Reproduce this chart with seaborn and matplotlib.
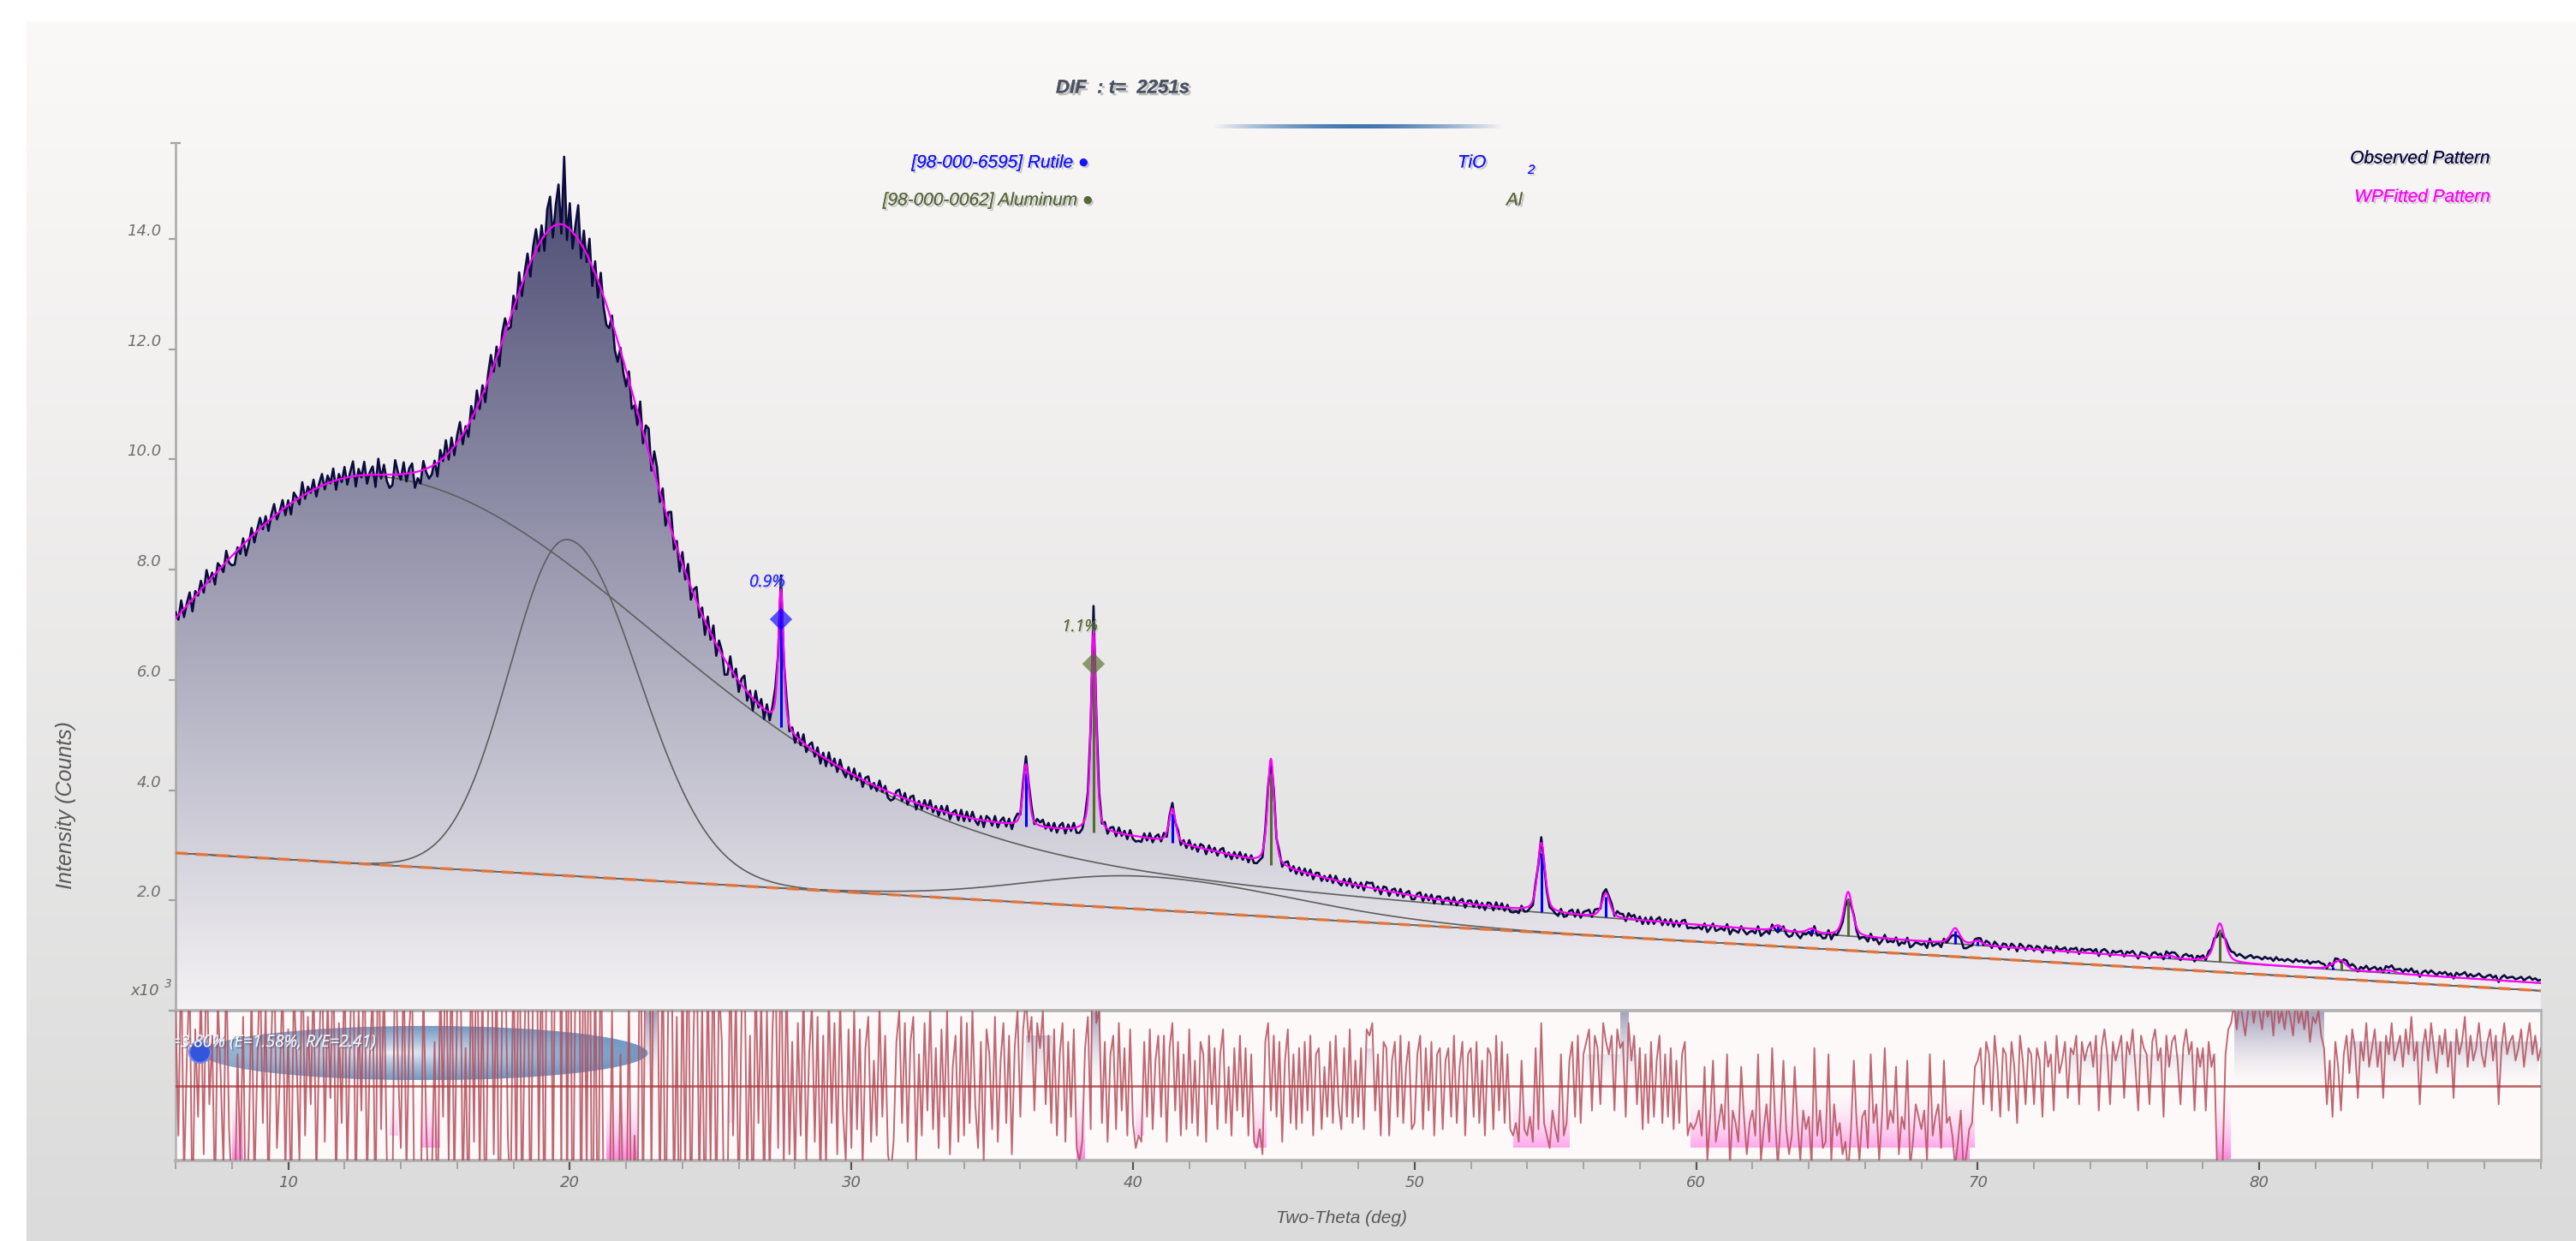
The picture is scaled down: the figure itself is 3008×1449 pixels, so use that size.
import numpy as np
import pandas as pd
import matplotlib
matplotlib.use("Agg")
import matplotlib.pyplot as plt
import seaborn as sns
from matplotlib import patheffects as pe
from matplotlib.colors import LinearSegmentedColormap, to_rgba
from matplotlib.patches import Polygon, PathPatch, Ellipse, Rectangle
from matplotlib.path import Path
from matplotlib.ticker import MultipleLocator

# ---------------- scan ----------------
scan_start, scan_end, scan_step = 6.0, 90.0, 0.1
y_top = 15.74                       # x10^3 counts

# linear background (x10^3 counts) at the two ends of the scan
background_ends = [2.86, 0.36]

# amorphous humps
hump_center = [13.0, 19.9, 40.5]
hump_height = [7.05, 6.1, 0.6]
hump_hw_left = [8.2, 2.4, 5.0]
hump_hw_right = [11.5, 3.0, 6.0]
hump_tail_frac = [0.15, 0.0, 0.0]
hump_tail_hw = [30.0, 1.0, 1.0]

# crystalline reflections (R = rutile, A = aluminium)
peak_pos = [27.5, 36.2, 38.6, 41.4, 44.9, 54.5, 56.8, 62.9, 64.1, 65.4,
            69.2, 70.0, 76.8, 78.6, 82.6, 82.9, 84.6]
peak_phase = ['R', 'R', 'A', 'R', 'A', 'R', 'R', 'R', 'R', 'A',
              'R', 'R', 'R', 'A', 'R', 'A', 'R']
peak_height = [2.50, 1.13, 3.65, 0.62, 1.93, 1.25, 0.44, 0.10, 0.08, 0.80,
               0.28, 0.08, 0.05, 0.70, 0.05, 0.16, 0.05]
peak_fwhm = [0.22, 0.25, 0.22, 0.28, 0.28, 0.32, 0.34, 0.36, 0.36, 0.36,
             0.38, 0.38, 0.42, 0.42, 0.45, 0.45, 0.46]

phase_color = {'R': '#0000ff', 'A': '#556b2f'}
phase_marker_pos = [27.5, 38.6]
phase_marker_y = [7.10, 6.29]
phase_marker_phase = ['R', 'A']
phase_fraction_text = ['0.9%', '1.1%']

# observed minus fitted, in hundredths of 10^3 counts, one row per degree
residual_hundredths = [
    12, -8, 21, -15, 4, 18, -22, 9, -5, 16,
    -11, 24, -3, 8, -19, 14, 2, -13, 20, -7,
    -17, -21, 5, -12, 11, -25, -9, 15, -16, 3,
    19, -6, 13, -18, 7, 22, -10, 1, 17, -14,
    9, -20, 16, 4, -12, 25, -8, 11, -3, 18,
    -15, 6, 21, -9, 14, -2, 23, -17, 10, -6,
    20, -13, 8, 27, -19, 12, -4, 24, -16, 5,
    15, -22, 29, -7, 18, -11, -24, -19, 26, 3,
    -10, 21, -14, 9, 17, -28, -12, -23, 16, -6,
    -20, -15, 7, -25, 19, -5, 28, -12, 22, -16,
    13, 30, -18, 6, -22, 24, -9, 31, -14, 17,
    -26, 12, 33, -11, 20, -30, 15, 27, -8, -19,
    23, -16, 36, -21, 9, 29, -25, 18, 38, -12,
    26, -28, 41, 58, -20, 35, 72, -17, 124, -24,
    47, -30, 18, 62, -26, 33, -14, 39, -35, 22,
    -31, 28, -19, -37, -27, 12, -34, -38, 5, -22,
    -29, 16, -33, -8, -25, 36, -21, 30, 43, -15,
    38, 27, -18, 24, -26, 15, 32, -20, 11, -29,
    21, -14, 28, -23, 9, 26, -17, 13, -25, 19,
    -12, 24, -21, 16, 7, -28, -19, 22, -8, 15,
    -20, 11, 23, -16, 8, -22, 19, -6, 14, -18,
    12, -15, 9, 21, -10, 25, -13, 18, -11, 7,
    -14, 10, -8, 16, -12, 5, 13, -9, 11, -15,
    8, -13, 15, -6, 10, -11, 14, -4, -12, 9,
    -10, 12, -7, 9, -13, 6, 11, -9, 4, -8,
    13, -5, 8, -11, -14, -9, 7, 12, -6, 10,
    -9, 7, 11, -12, 5, -8, 10, -4, 13, -7,
    6, -10, 9, -5, 12, -11, 3, 8, -9, 11,
    -8, 10, -6, 12, -3, -10, 7, -12, 9, 5,
    -7, 11, -9, 4, 10, -6, 8, -11, 6, 12,
    -5, 9, 14, 7, 11, -4, 10, 6, 12, -3,
    8, -6, 9, -8, 5, 10, -9, 7, -5, 9,
    -10, -12, -9, 6, 11, -7, 45, 10, 12, -6,
    7, -9, 5, 8, -7, 10, -4, 6, -8, 9,
    -6, -10, -8, -9, 7, -5, 9, -7, 4, 8,
    -5, 8, -9, 6, 10, -4, 7, -8, 5, -7,
    9, -6, 4, -8, 7, 5, -9, 8, -3, 6,
    -7, 5, 9, -6, 3, -8, 6, -4, 8, -5,
    6, -8, 5, -9, -10, -7, -11, 7, 10, -4,
    8, -5, 7, -9, 4, 9, -6, 5, -7, 6,
    -6, 7, -4, 8, -8, 5, 6, -7, 3, -5,
    7, -6, 8, -3, -7, 6, -5, 9, -6, 4,
    -5, 6, -7, 9, 8, 10, -4, 5, -8, 7,
    6, -8, 4, 7, -5, 8, -6, 3, 7, -7,
    -6, 5, 8, -7, 6, -4, 7, -8, 5, 6,
    -7, 4, 6, -5, 8, -6, 3, 7, -8, 5,
    6, -5, 7, -6, 4, -8, 6, 5, -7, 8,
    -4, 7, -6, 5, -7, -8, -6, -9, 4, -7,
    -8, -5, -9, 6, -7, 10, -6, -8, -10, -4,
    -7, -9, 5, -8, -6, 4, 7, -5, 8, -6,
    5, 7, 9, -4, 8, 6, -3, 10, 7, 5,
    8, -4, 9, 6, 7, -5, 10, 4, 8, -3,
    6, -7, 5, -6, 7, -5, 4, 8, -6, 5,
    -5, 6, -7, 4, -6, 5, 7, -8, -6, -7,
    -6, -4, -8, 3, -12, -5, 4, -9, -6, -3,
    -7, 5, -13, -4, -6, -9, 3, -5, -11, -6,
    -4, -8, 5, -12, -7, -3, -9, 6, -5, -13,
    -6, 4, -7, -11, -8, 3, -6, -12, -4, -7,
    -5, -13, 6, -8, -4, -10, -9, 5, -12, -3,
    -8, -6, -11, -9, -14, -7, 4, -6, -12, -5,
    -4, -10, 5, -6, -3, -12, -5, 6, -7, -4,
    -6, 3, -11, -5, -7, 4, -13, -9, -3, -5,
    -7, -4, -12, 5, -8, -5, -3, -10, 4, -6,
    -5, -8, -13, -9, -4, -14, -11, -7, -6, 3,
    4, 6, -3, 7, 5, -4, 8, 3, -5, 6,
    5, -4, 7, 3, -6, 8, 4, -3, 6, 5,
    -3, 6, 4, -5, 7, 3, 5, -4, 8, 2,
    4, 7, -2, 6, 5, 8, -3, 7, 4, 6,
    7, 3, 8, -4, 6, 9, 5, -3, 7, 4,
    6, 8, -2, 7, 5, 9, 3, -4, 8, 6,
    5, -3, 7, 9, 4, 6, -5, 8, 3, 7,
    8, 4, -3, 6, 9, 5, 7, -4, 6, 3,
    6, -4, 7, 3, 5, -13, -14, -12, 5, 9,
    10, 13, 9, 14, 11, 8, 12, 15, 10, 13,
    12, 9, 14, 11, 13, 8, 15, 10, 12, 9,
    13, 11, 8, 14, 10, 12, 9, 13, 7, 11,
    10, 12, 8, 6, -3, 4, -5, 7, 3, -4,
    5, 8, 2, 9, 6, -2, 7, 4, 10, 3,
    6, 9, 3, 7, -2, 8, 5, 10, 4, 6,
    8, 3, 9, 5, 11, 4, 7, -3, 6, 9,
    4, 10, 6, 2, 8, 5, 9, 3, 7, -2,
    9, 5, 7, 11, 3, 8, 4, 6, 10, 5,
    3, 7, 9, 4, 8, -3, 6, 10, 5, 7,
    8, 4, 6, 9, 3, 7, 10, 5, 8, 4,
    6,
]

# systematic misfit bands in the difference plot: start, end, level
band_start = [8.0, 13.6, 14.7, 21.3, 22.7, 25.6, 36.2, 38.0, 38.5, 40.1,
              44.3, 48.3, 53.5, 56.1, 57.3, 59.8, 69.2, 73.2, 78.5, 79.1, 83.2]
band_end = [8.4, 13.9, 15.4, 22.4, 23.1, 25.8, 37.1, 38.3, 38.85, 40.4,
            44.75, 48.5, 55.5, 57.9, 57.6, 69.9, 69.7, 78.4, 79.0, 82.3, 89.9]
band_level = [-12, -8, -10, -12, 12, -6, 8, -12, 12, -8,
              -10, 6, -10, 5, 12, -10, -12, 5, -12, 12, 7]

resid_limit = 12.0
r_text = "R=3.80% (E=1.58%, R/E=2.41)"


# ---------------- model ----------------
def pseudo_voigt(x, c, h, fwhm, eta=0.5):
    d2 = ((x - c) / fwhm) ** 2
    return h * (eta / (1 + 4 * d2) + (1 - eta) * np.exp(-4 * np.log(2) * d2))


def hump(x, i):
    d = x - hump_center[i]
    left = np.exp(-np.log(2) * (d / hump_hw_left[i]) ** 2)
    fr = hump_tail_frac[i]
    right = (1 - fr) * np.exp(-np.log(2) * (d / hump_hw_right[i]) ** 2) \
        + fr / (1 + (d / hump_tail_hw[i]) ** 2)
    return hump_height[i] * np.where(d < 0, left, right)


def background(x):
    b0, b1 = background_ends
    return b0 + (b1 - b0) * (x - scan_start) / (scan_end - scan_start)


def amorphous(x):
    return background(x) + sum(hump(x, i) for i in range(len(hump_center)))


def crystalline(x):
    return sum(pseudo_voigt(x, c, h, w) for c, h, w in zip(peak_pos, peak_height, peak_fwhm))


n_pts = int(round((scan_end - scan_start) / scan_step)) + 1
assert len(residual_hundredths) == n_pts
tth = scan_start + scan_step * np.arange(n_pts)
fine = np.linspace(scan_start, scan_end, 4201)

fit_fine = amorphous(fine) + crystalline(fine)
resid = np.array(residual_hundredths, float)
obs = amorphous(tth) + crystalline(tth) + resid / 100.0

df_obs = pd.DataFrame({"tth": tth, "obs": obs, "resid": resid})
df_fit = pd.DataFrame({"tth": fine, "fit": fit_fine})

# ---------------- figure ----------------
sns.set_theme(style="white")
plt.rcParams['font.family'] = ['Liberation Sans', 'DejaVu Sans']
W, H = 3008, 1449
fig = plt.figure(figsize=(W / 200, H / 200), dpi=200)


def fx(px):
    return px / W


def fy(py):
    return 1 - py / H


def shadow(off=0.8, color='#8a8a8a', alpha=0.5):
    return [pe.withSimplePatchShadow(offset=(off, -off), shadow_rgbFace=color, alpha=alpha), pe.Normal()]


# page background
bg = fig.add_axes([0, 0, 1, 1], zorder=-5)
bg.set_axis_off()
page_cmap = LinearSegmentedColormap.from_list('page', ['#dbdbdb', '#fbf9f8'])
bg.imshow(np.linspace(0, 1, 256).reshape(-1, 1), extent=[0, 1, 0, fy(23)],
          origin='lower', aspect='auto', cmap=page_cmap)
bg.add_patch(Rectangle((0, 0), fx(29), 1, color='white'))
bg.add_patch(Rectangle((0, fy(23)), 1, 1, color='white'))
bg.set_xlim(0, 1)
bg.set_ylim(0, 1)

left, right = fx(205), fx(2967)
ax = fig.add_axes([left, fy(1180), right - left, fy(167) - fy(1180)])
axr = fig.add_axes([left, fy(1355), right - left, fy(1180) - fy(1355)])
ax.set_facecolor('none')
axr.set_facecolor('#fdf9f9')

# ---- main panel ----
poly = Polygon(np.column_stack([np.r_[tth, scan_end, scan_start], np.r_[obs, 0, 0]]),
               closed=True, facecolor='none', edgecolor='none', transform=ax.transData)
ax.add_patch(poly)
fill_cmap = LinearSegmentedColormap.from_list('fill', ['#f4f2f4', '#45456f'])
im = ax.imshow(np.linspace(0, 1, 256).reshape(-1, 1), extent=[scan_start, scan_end, 0, y_top],
               origin='lower', aspect='auto', cmap=fill_cmap, zorder=1)
im.set_clip_path(poly)

bgl = background(fine)
for i in range(len(hump_center)):
    sns.lineplot(x=fine, y=bgl + hump(fine, i), ax=ax, color='#5e5e5e', linewidth=0.6,
                 estimator=None, sort=False, zorder=3)
sns.lineplot(x=fine, y=bgl, ax=ax, color='#666666', linewidth=0.6, estimator=None, sort=False, zorder=3)
ax.plot(fine, bgl, color='#f07838', linewidth=1.3, dashes=(4, 2.6), alpha=0.85, zorder=4)

sns.lineplot(data=df_obs, x="tth", y="obs", ax=ax, color='#0b0b3d', linewidth=0.95,
             estimator=None, sort=False, zorder=5)
sns.lineplot(data=df_fit, x="tth", y="fit", ax=ax, color='#ff00ff', linewidth=0.8,
             estimator=None, sort=False, zorder=6)

# phase reflection sticks
for c, h, ph in zip(peak_pos, peak_height, peak_phase):
    base = float(amorphous(np.array([c]))[0])
    ax.vlines(c, base, base + 0.85 * h, color=phase_color[ph], linewidth=1.1, zorder=5.5)

for c, yv, ph, txt in zip(phase_marker_pos, phase_marker_y, phase_marker_phase, phase_fraction_text):
    ax.scatter([c], [yv], marker='D', s=45, color=phase_color[ph], alpha=0.65,
               edgecolor='none', zorder=8)
    ax.text(c + 0.15, yv + 0.67, txt, ha='right', va='center',
            fontsize=7, style='italic', family=['Open Sans', 'DejaVu Sans'],
            color='#2828ff' if ph == 'R' else '#5d6b3c', zorder=9,
            path_effects=shadow(0.6, '#b0b0b0', 0.5))

ax.set_xlim(scan_start, scan_end)
ax.set_ylim(0, y_top)
ax.set_xticks([])
ax.set_yticks(np.arange(0, 15, 2))
ax.set_yticklabels([''] + [f'{v:.1f}' for v in np.arange(2, 15, 2)])
ax.set_yticks([y_top], minor=True)
ax.tick_params(axis='y', which='major', direction='out', length=3, width=0.8,
               color='#a0a0a0', pad=3, labelsize=6.5, labelcolor='#707070', left=True)
ax.tick_params(axis='y', which='minor', direction='inout', length=4, width=0.8,
               color='#a0a0a0', left=True)
for lab in ax.get_yticklabels():
    lab.set_va('bottom')
    lab.set_fontstyle('italic')
    lab.set_family('DejaVu Sans')
for s in ['top', 'right', 'bottom']:
    ax.spines[s].set_visible(False)
ax.spines['left'].set_color('#a8a8a8')
ax.spines['left'].set_linewidth(0.9)
ax.set_xlabel('')
ax.set_ylabel('')

# ---- difference panel ----
def band_path(sign):
    verts, codes = [], []
    for x0, x1, lv in zip(band_start, band_end, band_level):
        if np.sign(lv) != sign:
            continue
        verts += [(x0, 0), (x1, 0), (x1, lv), (x0, lv), (x0, 0)]
        codes += [Path.MOVETO, Path.LINETO, Path.LINETO, Path.LINETO, Path.CLOSEPOLY]
    return Path(verts, codes)


t = np.linspace(0, 1, 256)
up = np.zeros((256, 1, 4))
up[..., :3] = to_rgba('#8a8aac')[:3]
up[:, 0, 3] = 0.8 * t ** 1.6
down = np.zeros((256, 1, 4))
down[..., :3] = to_rgba('#ff6ee0')[:3]
down[:, 0, 3] = 0.85 * (1 - t) ** 2.0
for sign, img, ext in [(1, up, [scan_start, scan_end, 0, resid_limit]),
                       (-1, down, [scan_start, scan_end, -resid_limit, 0])]:
    pp = PathPatch(band_path(sign), facecolor='none', edgecolor='none', transform=axr.transData)
    axr.add_patch(pp)
    bi = axr.imshow(img, extent=ext, origin='lower', aspect='auto', zorder=1)
    bi.set_clip_path(pp)

# R-factor badge
ex, ey, ew, eh = 14.85, 5.2, 15.84, 8.7
xs = np.linspace(ex - ew / 2, ex + ew / 2, 300)
ys = np.linspace(ey - eh / 2, ey + eh / 2, 80)
X, Y = np.meshgrid(xs, ys)
rr = np.clip(np.sqrt(((X - 13.7) / (ew * 0.55)) ** 2 + ((Y - ey) / (eh * 0.5)) ** 2), 0, 1)
c0 = np.array(to_rgba('#f3f6fb'))
c1 = np.array(to_rgba('#6792bf'))
badge = c0 + (c1 - c0) * (rr[..., None] ** 0.7)
badge[..., 3] = 0.92
ell = Ellipse((ex, ey), ew, eh, facecolor='none', edgecolor='none', transform=axr.transData)
axr.add_patch(ell)
bim = axr.imshow(badge, extent=[xs[0], xs[-1], ys[0], ys[-1]], origin='lower', aspect='auto', zorder=2)
bim.set_clip_path(ell)

sns.lineplot(data=df_obs, x="tth", y="resid", ax=axr, color='#b44f5d', linewidth=0.7,
             alpha=0.85, estimator=None, sort=False, zorder=3)
axr.axhline(0, color='#a83a3a', linewidth=1.0, alpha=0.75, zorder=4)

axr.scatter([6.86], [5.4], s=80, color='#3355dd', edgecolor='#6a86f0', linewidth=0.8,
            zorder=5, clip_on=False)
axr.text(13.13, 6.9, r_text, ha='right', va='center', fontsize=7, style='italic',
         family=['Open Sans', 'DejaVu Sans'], color='#eef1f8', zorder=6, clip_on=True,
         path_effects=[pe.withSimplePatchShadow(offset=(0.6, -0.6), shadow_rgbFace='#505a70', alpha=0.6),
                       pe.Normal()])

axr.set_xlim(scan_start, scan_end)
axr.set_ylim(-resid_limit, resid_limit)
axr.set_yticks([])
axr.set_xticks(np.arange(10, 90, 10))
axr.set_xticklabels([str(v) for v in range(10, 90, 10)])
axr.xaxis.set_minor_locator(MultipleLocator(2))
axr.tick_params(axis='x', which='major', direction='out', length=4, width=0.8, color='#555555',
                pad=2, labelsize=6.5, labelcolor='#666666', bottom=True)
axr.tick_params(axis='x', which='minor', direction='out', length=3.5, width=0.6, color='#999999',
                bottom=True)
for lab in axr.get_xticklabels():
    lab.set_fontstyle('italic')
    lab.set_family('DejaVu Sans')
for s, lw in [('top', 1.3), ('bottom', 1.3), ('left', 0.9), ('right', 0.9)]:
    axr.spines[s].set_visible(True)
    axr.spines[s].set_color('#b0b0b0')
    axr.spines[s].set_linewidth(lw)
axr.set_xlabel('')
axr.set_ylabel('')

# ---- annotations ----
fig.text(fx(1311), fy(103), 'DIF  : t=  2251s', ha='center', va='center', fontsize=8,
         fontweight='bold', style='italic', color='#4a5262', path_effects=shadow(1.0, '#9a9a9a', 0.6))

bar = fig.add_axes([fx(1416), fy(150), fx(1756) - fx(1416), fy(145) - fy(150)])
bar.set_axis_off()
g = np.zeros((1, 256, 4))
g[..., :3] = to_rgba('#3f74b0')[:3]
g[0, :, 3] = np.clip(1 - np.abs(np.linspace(-1, 1, 256)) ** 1.6, 0, 1)
bar.imshow(g, aspect='auto', extent=[0, 1, 0, 1])

legend_kw = dict(fontsize=7.5, style='italic', va='center', path_effects=shadow(0.8, '#a0a0a0', 0.55))
fig.text(fx(1272), fy(190), '[98-000-6595] Rutile \u25cf', ha='right', color='#1414ff', **legend_kw)
fig.text(fx(1277), fy(234), '[98-000-0062] Aluminum \u25cf', ha='right', color='#56683a', **legend_kw)
fig.text(fx(1702), fy(190), 'TiO', ha='left', color='#1414ff', **legend_kw)
fig.text(fx(1784), fy(199), '2', ha='left', color='#1414ff', fontsize=5.5, style='italic', va='center',
         path_effects=shadow(0.6, '#a0a0a0', 0.55))
fig.text(fx(1759), fy(234), 'Al', ha='left', color='#56683a', **legend_kw)
fig.text(fx(2908), fy(185), 'Observed Pattern', ha='right', color='#0a0a40', **legend_kw)
fig.text(fx(2908), fy(230), 'WPFitted Pattern', ha='right', color='#ff00ff', **legend_kw)

fig.text(fx(152), fy(1157), 'x10', ha='left', va='center', fontsize=6.5, style='italic',
         family='DejaVu Sans', color='#6a6a6a')
fig.text(fx(192), fy(1149), '3', ha='left', va='center', fontsize=5, style='italic',
         family='DejaVu Sans', color='#6a6a6a')

fig.text(fx(77), fy(940), 'Intensity (Counts)', rotation=90, ha='center', va='center',
         fontsize=9, style='italic', color='#585858')
fig.text(fx(1566), fy(1423), 'Two-Theta (deg)', ha='center', va='center',
         fontsize=7.5, style='italic', color='#585858')

fig.savefig('out.png', dpi=200)
